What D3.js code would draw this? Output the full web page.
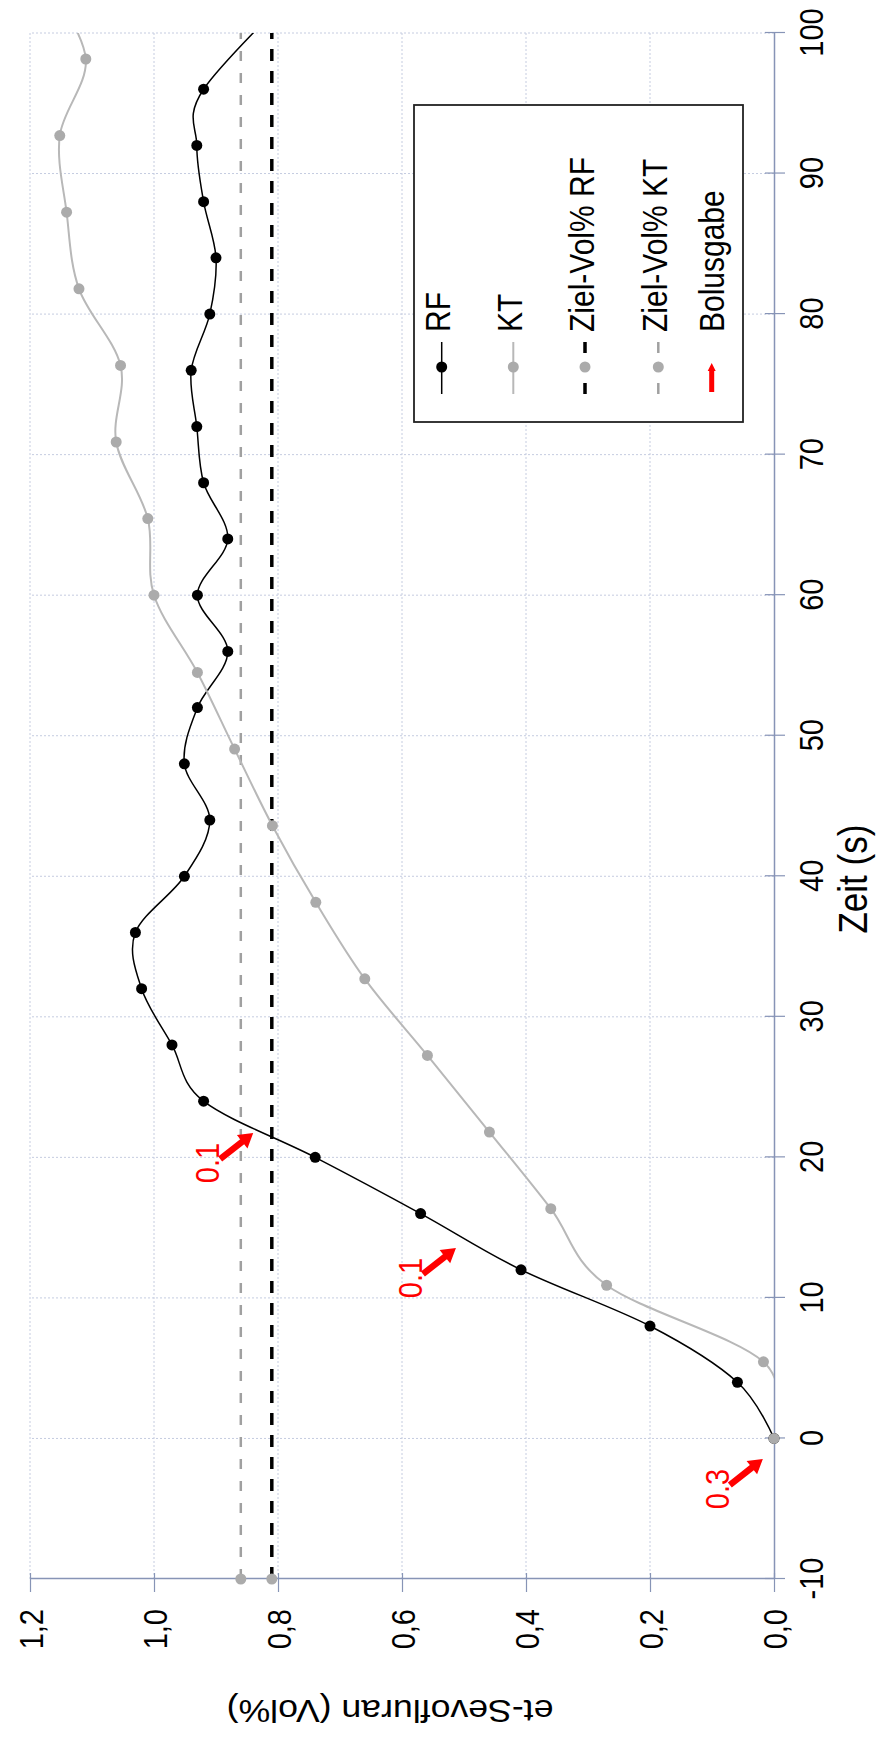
<!DOCTYPE html>
<html>
<head>
<meta charset="utf-8">
<script src="https://cdn.jsdelivr.net/npm/d3@7/dist/d3.min.js"></script>
<style>
  body { margin: 0; background: #fff; }
  svg { display: block; }
  text { font-family: "Liberation Sans", Arial, sans-serif; }
</style>
</head>
<body>
<svg id="chart" width="880" height="1737"></svg>
<script>
// Sevoflurane end-tidal concentration over time, RF vs KT
const rfTime  = [0, 4, 8, 12, 16, 20, 24, 28, 32, 36, 40, 44, 48, 52, 56, 60, 64, 68, 72, 76, 80, 84, 88, 92, 96, 104];
const rfValue = [0, 0.059, 0.200, 0.408, 0.570, 0.740, 0.920, 0.971, 1.020, 1.030, 0.951, 0.910, 0.951, 0.930, 0.881,
                 0.930, 0.881, 0.920, 0.931, 0.940, 0.910, 0.900, 0.920, 0.931, 0.920, 0.750];

const ktTime  = [0, 5.45, 10.9, 16.35, 21.8, 27.25, 32.7, 38.15, 43.6, 49.05, 54.5, 60, 65.45, 70.9, 76.35,
                 81.8, 87.25, 92.7, 98.15, 103.6];
const ktValue = [0, 0.017, 0.270, 0.360, 0.459, 0.559, 0.660, 0.739, 0.809, 0.870, 0.930, 1.000, 1.010, 1.061, 1.054,
                 1.121, 1.141, 1.152, 1.110, 1.170];

const targetTime    = [-10, 100];
const targetRfValue = [0.81, 0.81];
const targetKtValue = [0.86, 0.86];

const bolusTime  = [-1.46, 13.55, 21.73];
const bolusLevel = [0.018, 0.513, 0.840];
const bolusDose  = ["0.3", "0.1", "0.1"];

const timeTicks  = [-10, 0, 10, 20, 30, 40, 50, 60, 70, 80, 90, 100];
const valueTicks = [0, 0.2, 0.4, 0.6, 0.8, 1.0, 1.2];

const legendLabels = ["RF", "KT", "Ziel-Vol% RF", "Ziel-Vol% KT", "Bolusgabe"];

// ---------------------------------------------------------------
const PAGE_H = 1737;
const axisColor = "#8794b6";
const gridColor = "#c5cce0";
const rfColor = "#000000";
const ktLine = "#b8b8b8";
const ktDot = "#ababab";
const red = "#ff0000";
const textStretch = "scale(1,1.15)";

const svg = d3.select("#chart");
// the whole chart is laid out as a normal x/y plot, then turned a quarter turn
const g = svg.append("g").attr("transform", `translate(0,${PAGE_H}) rotate(-90)`);

const x = d3.scaleLinear().domain([-10, 100]).range([158, 1704]);
const y = d3.scaleLinear().domain([0, 1.2]).range([774, 30]);

svg.append("defs").append("clipPath").attr("id", "plotClip")
  .append("rect")
  .attr("x", x(-10)).attr("y", y(1.2))
  .attr("width", x(100) - x(-10)).attr("height", y(0) - y(1.2));

// gridlines
const grid = g.append("g")
  .attr("stroke", gridColor).attr("stroke-width", 1).attr("stroke-dasharray", "2,2");
grid.selectAll("line.gx").data(timeTicks.filter(t => t > -10)).join("line")
  .attr("class", "gx")
  .attr("x1", d => x(d)).attr("x2", d => x(d))
  .attr("y1", y(0)).attr("y2", y(1.2));
grid.selectAll("line.gy").data(valueTicks.filter(v => v > 0)).join("line")
  .attr("class", "gy")
  .attr("y1", d => y(d)).attr("y2", d => y(d))
  .attr("x1", x(-10)).attr("x2", x(100));

// axes
const fmtTime = d3.formatLocale({decimal: ".", thousands: ",", grouping: [3], currency: ["", ""], minus: "-"}).format("d");
const fmtVal = d3.formatLocale({decimal: ",", thousands: ".", grouping: [3], currency: ["", ""]}).format(".1f");

const xAxis = g.append("g")
  .attr("transform", `translate(0,${y(0)})`)
  .call(d3.axisBottom(x).tickValues(timeTicks).tickFormat(fmtTime).tickSizeInner(11).tickSizeOuter(0));
xAxis.attr("font-size", null).attr("font-family", null);
xAxis.select(".domain").attr("stroke", axisColor).attr("stroke-width", 1.5);
xAxis.selectAll(".tick line").attr("y1", -9).attr("stroke", axisColor).attr("stroke-width", 1.2);
xAxis.selectAll(".tick text")
  .attr("y", null).attr("dy", null)
  .attr("transform", `translate(0,49) ${textStretch}`)
  .attr("font-size", 29).attr("fill", "#000");

const yAxis = g.append("g")
  .attr("transform", `translate(${x(-10)},0)`)
  .call(d3.axisLeft(y).tickValues(valueTicks).tickFormat(fmtVal).tickSizeInner(13).tickSizeOuter(0));
yAxis.attr("font-size", null).attr("font-family", null);
yAxis.select(".domain").attr("stroke", axisColor).attr("stroke-width", 1.5);
yAxis.selectAll(".tick line").attr("x1", 6).attr("stroke", axisColor).attr("stroke-width", 1.2);
yAxis.selectAll(".tick text")
  .attr("x", null).attr("dy", "0.36em")
  .attr("transform", `translate(-30,0) ${textStretch}`)
  .attr("font-size", 29).attr("fill", "#000");

// axis titles
g.append("text")
  .attr("transform", `translate(${x(39.8)},867) ${textStretch}`)
  .attr("text-anchor", "middle").attr("font-size", 35)
  .text("Zeit (s)");
g.append("text")
  .attr("transform", `translate(37,390) rotate(-90) scale(1.15,1)`)
  .attr("text-anchor", "middle").attr("font-size", 31)
  .text("et-Sevofluran  (Vol%)");

// series
const toPts = (ts, vs) => ts.map((t, i) => ({t, v: vs[i]}));
const rf = toPts(rfTime, rfValue);
const kt = toPts(ktTime, ktValue);
const tRf = toPts(targetTime, targetRfValue);
const tKt = toPts(targetTime, targetKtValue);

const smooth = d3.line().x(d => x(d.t)).y(d => y(d.v)).curve(d3.curveCardinal.tension(0));
const straight = d3.line().x(d => x(d.t)).y(d => y(d.v));

const plot = g.append("g").attr("clip-path", "url(#plotClip)");

plot.append("path").datum(tKt).attr("d", straight)
  .attr("fill", "none").attr("stroke", "#a0a0a0").attr("stroke-width", 2.5).attr("stroke-dasharray", "10,12");
plot.append("path").datum(tRf).attr("d", straight)
  .attr("fill", "none").attr("stroke", "#000").attr("stroke-width", 3.5).attr("stroke-dasharray", "12,10");

plot.append("path").datum(rf).attr("d", smooth)
  .attr("fill", "none").attr("stroke", rfColor).attr("stroke-width", 1.5);
plot.append("path").datum(kt).attr("d", smooth)
  .attr("fill", "none").attr("stroke", ktLine).attr("stroke-width", 2);

const inView = d => d.t >= -10 && d.t <= 100;
const marks = g.append("g");
marks.selectAll("circle.rf").data(rf.filter(inView)).join("circle")
  .attr("class", "rf").attr("cx", d => x(d.t)).attr("cy", d => y(d.v)).attr("r", 5.5).attr("fill", rfColor);
marks.selectAll("circle.kt").data(kt.filter(inView)).join("circle")
  .attr("class", "kt").attr("cx", d => x(d.t)).attr("cy", d => y(d.v)).attr("r", 5.5).attr("fill", ktDot);
marks.selectAll("circle.tg").data([tRf[0], tKt[0]]).join("circle")
  .attr("class", "tg").attr("cx", d => x(d.t)).attr("cy", d => y(d.v)).attr("r", 5.5).attr("fill", ktDot);

// bolus arrows
const arrowPath = "M0,0 L-14,-8.5 L-14,-3.2 L-42,-3.2 L-42,3.2 L-14,3.2 L-14,8.5 Z";
const bolus = bolusTime.map((t, i) => ({t, v: bolusLevel[i], dose: bolusDose[i]}));
const bg = g.append("g").selectAll("g").data(bolus).join("g")
  .attr("transform", d => `translate(${x(d.t)},${y(d.v)})`);
bg.append("path").attr("d", arrowPath).attr("fill", red).attr("transform", "rotate(51.8)");
bg.append("text")
  .attr("transform", `translate(-30,-34) ${textStretch}`)
  .attr("text-anchor", "middle").attr("font-size", 29).attr("fill", red)
  .text(d => d.dose);

// legend
const legend = g.append("g");
legend.append("rect")
  .attr("x", 1315).attr("y", 414).attr("width", 317).attr("height", 329)
  .attr("fill", "#fff").attr("stroke", "#222").attr("stroke-width", 1.8);

const rowY = [441.7, 513.3, 585, 658.3, 711.7];
const symX0 = 1343, symX1 = 1395, symMid = 1370, textX = 1405;

// RF
legend.append("line").attr("x1", symX0).attr("x2", symX1).attr("y1", rowY[0]).attr("y2", rowY[0])
  .attr("stroke", rfColor).attr("stroke-width", 1.5);
legend.append("circle").attr("cx", symMid).attr("cy", rowY[0]).attr("r", 5.5).attr("fill", rfColor);
// KT
legend.append("line").attr("x1", symX0).attr("x2", symX1).attr("y1", rowY[1]).attr("y2", rowY[1])
  .attr("stroke", ktLine).attr("stroke-width", 2);
legend.append("circle").attr("cx", symMid).attr("cy", rowY[1]).attr("r", 5.5).attr("fill", ktDot);
// Ziel-Vol% RF
legend.append("line").attr("x1", symX0).attr("x2", symX1).attr("y1", rowY[2]).attr("y2", rowY[2])
  .attr("stroke", "#000").attr("stroke-width", 3.5).attr("stroke-dasharray", "11,30");
legend.append("circle").attr("cx", symMid).attr("cy", rowY[2]).attr("r", 5.5).attr("fill", ktDot);
// Ziel-Vol% KT
legend.append("line").attr("x1", symX0).attr("x2", symX1).attr("y1", rowY[3]).attr("y2", rowY[3])
  .attr("stroke", "#a0a0a0").attr("stroke-width", 2.5).attr("stroke-dasharray", "11,30");
legend.append("circle").attr("cx", symMid).attr("cy", rowY[3]).attr("r", 5.5).attr("fill", ktDot);
// Bolusgabe
legend.append("path")
  .attr("d", "M0,0 L-8,-4 L-8,-2.5 L-29,-2.5 L-29,2.5 L-8,2.5 L-8,4 Z")
  .attr("transform", `translate(1374,${rowY[4]})`).attr("fill", red);

legend.selectAll("text.item").data(legendLabels).join("text")
  .attr("class", "item")
  .attr("transform", (d, i) => `translate(${textX},${rowY[i] + (i === 4 ? 12 : 8.5)}) ${textStretch}`)
  .attr("font-size", 30).attr("fill", "#000")
  .text(d => d);
</script>
</body>
</html>
